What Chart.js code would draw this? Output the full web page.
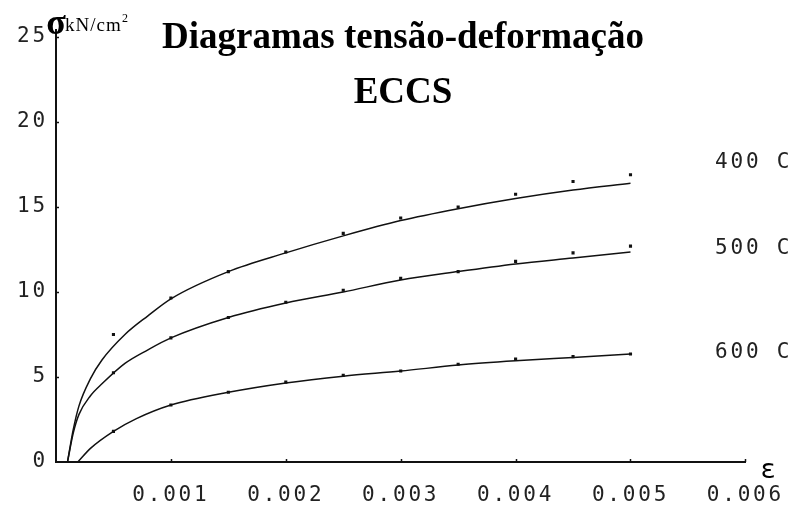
<!DOCTYPE html>
<html>
<head>
<meta charset="utf-8">
<script src="https://cdn.jsdelivr.net/npm/chart.js@4.4.0/dist/chart.umd.min.js"></script>
<style>
  html, body { margin: 0; padding: 0; background: #fff; }
  #wrap { width: 798px; height: 507px; position: relative; }
</style>
</head>
<body>
<div id="wrap"><canvas id="stressChart"></canvas></div>
<script>
// ---------------- data --------------------------------------
// measured points (ECCS), strain in m/m, stress in kN/cm2
const strainPts = [0.0005, 0.001, 0.0015, 0.002, 0.0025, 0.003, 0.0035, 0.004, 0.0045, 0.005];
const pts400 = [7.5, 9.65, 11.2, 12.35, 13.45, 14.35, 15.0, 15.75, 16.5, 16.9];
const pts500 = [5.25, 7.3, 8.5, 9.4, 10.1, 10.8, 11.2, 11.8, 12.3, 12.7];
const pts600 = [1.8, 3.35, 4.1, 4.7, 5.1, 5.35, 5.75, 6.05, 6.2, 6.35];

// fitted curves
const curveStrain = [0.0001, 0.00015, 0.0002, 0.0003, 0.0004, 0.0006, 0.0008, 0.001, 0.0015, 0.002, 0.0025, 0.003, 0.0035, 0.004, 0.0045, 0.005];
const curve400 = [0, 1.9, 3.3, 4.9, 6.0, 7.5, 8.6, 9.6, 11.2, 12.3, 13.3, 14.2, 14.9, 15.5, 16.0, 16.4];
const curve500 = [0, 1.7, 2.8, 3.9, 4.6, 5.8, 6.6, 7.3, 8.5, 9.35, 10.0, 10.7, 11.2, 11.65, 12.0, 12.35];
const curveStrain600 = [0.00019, 0.0003, 0.0005, 0.0007, 0.001, 0.0015, 0.002, 0.0025, 0.003, 0.0035, 0.004, 0.0045, 0.005];
const curve600 = [0, 0.8, 1.8, 2.55, 3.35, 4.1, 4.65, 5.05, 5.35, 5.7, 5.95, 6.15, 6.35];

const seriesLabels = ['400 C', '500 C', '600 C'];
const xTicks = [0.001, 0.002, 0.003, 0.004, 0.005, 0.006];
const yTicks = [0, 5, 10, 15, 20, 25];

const MONO = '"DejaVu Sans Mono", monospace';
const SERIF = '"Liberation Serif", "Times New Roman", serif';
const INK = '#111';
const TICK_SPACING = '2.8px';

function toXY(xs, ys) {
    return ys.map((y, i) => ({ x: xs[i], y: y }));
}

function curveSet(xs, ys) {
    return {
        type: 'line',
        data: toXY(xs, ys),
        borderColor: INK,
        borderWidth: 1.5,
        pointRadius: 0,
        cubicInterpolationMode: 'monotone',
        fill: false
    };
}

function pointSet(ys) {
    return {
        type: 'scatter',
        data: toXY(strainPts, ys),
        backgroundColor: INK,
        borderColor: INK,
        borderWidth: 0,
        pointStyle: 'rect',
        pointRadius: 2.2
    };
}

// letter spacing for the monospaced tick text
const spacingPlugin = {
    id: 'spacing',
    beforeDraw(chart) {
        chart.ctx.letterSpacing = TICK_SPACING;
    }
};

// titles, axis names, curve labels, inner tick marks
const notesPlugin = {
    id: 'notes',
    afterDraw(chart) {
        const ctx = chart.ctx;
        const xs = chart.scales.x;
        const ys = chart.scales.y;
        ctx.save();

        // small tick marks pointing inside
        ctx.strokeStyle = INK;
        ctx.lineWidth = 1.5;
        xTicks.forEach(v => {
            const px = Math.round(xs.getPixelForValue(v)) + 0.5;
            ctx.beginPath();
            ctx.moveTo(px, ys.bottom);
            ctx.lineTo(px, ys.bottom - 3);
            ctx.stroke();
        });
        yTicks.slice(1).forEach(v => {
            const py = Math.round(ys.getPixelForValue(v)) + 0.5;
            ctx.beginPath();
            ctx.moveTo(xs.left, py);
            ctx.lineTo(xs.left + 3, py);
            ctx.stroke();
        });
        // axis stub above 25
        ctx.lineWidth = 2;
        ctx.beginPath();
        ctx.moveTo(xs.left, ys.top);
        ctx.lineTo(xs.left, ys.top - 8);
        ctx.stroke();

        // title
        ctx.fillStyle = '#000';
        ctx.textAlign = 'center';
        ctx.textBaseline = 'alphabetic';
        ctx.letterSpacing = '0px';
        ctx.font = 'bold 37px ' + SERIF;
        ctx.fillText('Diagramas tensão-deformação', 403, 48);
        ctx.fillText('ECCS', 403, 103);

        // y axis name
        ctx.font = 'bold 36px ' + SERIF;
        ctx.fillText('σ', xs.left, 34);
        ctx.textAlign = 'left';
        ctx.letterSpacing = '1px';
        ctx.font = '19px ' + SERIF;
        ctx.fillText('kN/cm', 65, 31);
        ctx.letterSpacing = '0px';
        ctx.font = '12px ' + SERIF;
        ctx.fillText('2', 122, 22);

        // x axis name
        ctx.font = '26px ' + MONO;
        ctx.textAlign = 'center';
        ctx.fillText('ε', 768, 478);

        // curve labels
        ctx.letterSpacing = TICK_SPACING;
        ctx.font = '21px ' + MONO;
        ctx.textAlign = 'left';
        ctx.textBaseline = 'middle';
        ctx.fillStyle = '#222';
        ctx.fillText(seriesLabels[0], 715, 163);
        ctx.fillText(seriesLabels[1], 715, 249);
        ctx.fillText(seriesLabels[2], 715, 353);

        ctx.restore();
    }
};

new Chart(document.getElementById('stressChart'), {
    data: {
        datasets: [
            curveSet(curveStrain, curve400),
            curveSet(curveStrain, curve500),
            curveSet(curveStrain600, curve600),
            pointSet(pts400),
            pointSet(pts500),
            pointSet(pts600)
        ]
    },
    options: {
        responsive: true,
        maintainAspectRatio: false,
        animation: false,
        events: [],
        layout: { padding: { top: 37, right: 44, left: 0, bottom: 0 } },
        plugins: {
            legend: { display: false },
            tooltip: { enabled: false }
        },
        scales: {
            x: {
                type: 'linear',
                min: 0,
                max: 0.006,
                afterFit(scale) { scale.height = 45; },
                grid: { display: false, drawTicks: false },
                border: { display: true, color: INK, width: 2 },
                ticks: {
                    stepSize: 0.001,
                    padding: 21,
                    color: '#222',
                    font: { family: MONO, size: 21 },
                    callback: v => (v === 0 ? '' : v.toFixed(3))
                }
            },
            y: {
                min: 0,
                max: 25,
                afterFit(scale) { scale.width = 56; },
                grid: { display: false, drawTicks: false },
                border: { display: true, color: INK, width: 2 },
                ticks: {
                    stepSize: 5,
                    padding: 8,
                    color: '#222',
                    font: { family: MONO, size: 21 }
                }
            }
        }
    },
    plugins: [spacingPlugin, notesPlugin]
});
</script>
</body>
</html>
